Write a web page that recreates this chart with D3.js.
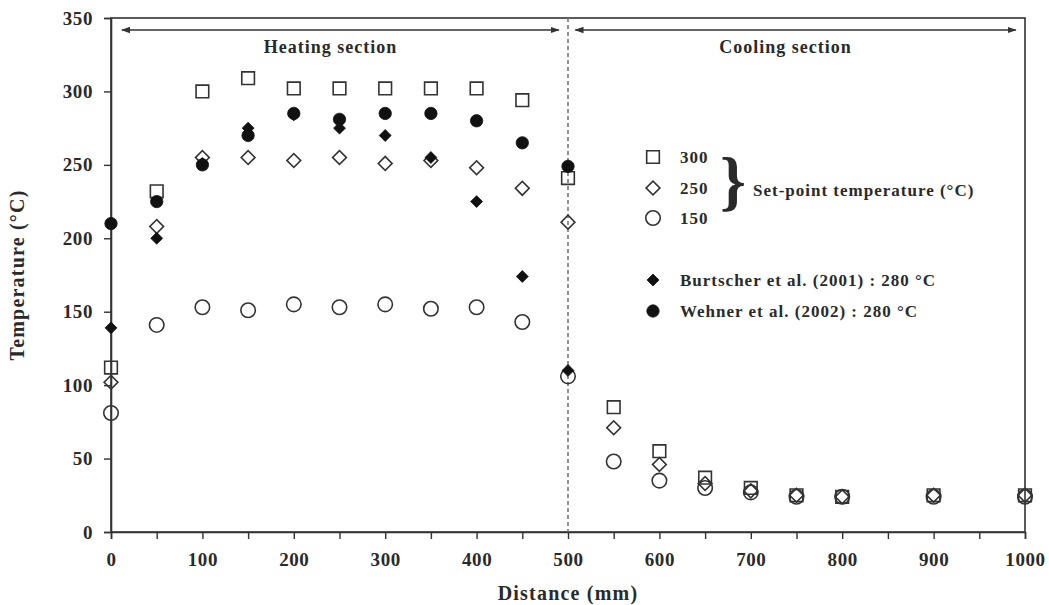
<!DOCTYPE html>
<html>
<head>
<meta charset="utf-8">
<script src="https://cdn.jsdelivr.net/npm/d3@7"></script>
<style>
  body { margin: 0; background: #fff; }
  svg text { font-family: "Liberation Serif", "DejaVu Serif", serif; font-weight: bold; fill: #2a2a2a; }
</style>
</head>
<body>
<div id="chart"></div>
<script>
// distances (mm) of the measurement points
var distances = [0, 50, 100, 150, 200, 250, 300, 350, 400, 450, 500, 550, 600, 650, 700, 750, 800, 900, 1000];
// set-point temperature series (°C)
var sp300 = [112, 232, 300, 309, 302, 302, 302, 302, 302, 294, 241, 85, 55, 37, 30, 25, 24, 25, 25];
var sp250 = [102, 208, 255, 255, 253, 255, 251, 253, 248, 234, 211, 71, 46, 33, 28, 25, 24, 25, 25];
var sp150 = [81, 141, 153, 151, 155, 153, 155, 152, 153, 143, 106, 48, 35, 30, 27, 24, 24, 24, 24];
// literature data, heating section only
var litDistances = [0, 50, 100, 150, 200, 250, 300, 350, 400, 450, 500];
var burtscher = [139, 200, 251, 275, 284, 275, 270, 255, 225, 174, 110];
var wehner = [210, 225, 250, 270, 285, 281, 285, 285, 280, 265, 249];

var xTicks = d3.range(0, 1001, 50);
var yTicks = d3.range(0, 351, 50);

var width = 1049, height = 605;
var margin = {top: 18, right: 24, bottom: 73, left: 111};

var svg = d3.select('#chart').append('svg')
    .attr('width', width)
    .attr('height', height);

var x = d3.scaleLinear().domain([0, 1000]).range([margin.left, width - margin.right]);
var y = d3.scaleLinear().domain([0, 350]).range([height - margin.bottom, margin.top]);

// frame
svg.append('rect')
    .attr('x', x(0)).attr('y', y(350))
    .attr('width', x(1000) - x(0)).attr('height', y(0) - y(350))
    .attr('fill', 'none').attr('stroke', '#333').attr('stroke-width', 1.6);

// axes
var xAxis = svg.append('g')
    .attr('transform', 'translate(0,' + y(0) + ')')
    .call(d3.axisBottom(x).tickValues(xTicks).tickSize(7).tickPadding(12)
        .tickFormat(function (d) { return d % 100 === 0 ? d : ''; }));
var yAxis = svg.append('g')
    .attr('transform', 'translate(' + x(0) + ',0)')
    .call(d3.axisLeft(y).tickValues(yTicks).tickSize(7).tickPadding(11));

[xAxis, yAxis].forEach(function (g) {
    g.select('.domain').attr('stroke', '#333').attr('stroke-width', 1.6);
    g.selectAll('.tick line').attr('stroke', '#333').attr('stroke-width', 1.4);
    g.selectAll('text').attr('font-size', 19).attr('letter-spacing', 0.6)
        .attr('font-family', null).attr('fill', null);
});
xAxis.selectAll('text').attr('dy', '0.8em');

// axis titles
svg.append('text')
    .attr('x', x(500)).attr('y', 600)
    .attr('text-anchor', 'middle').attr('font-size', 20).attr('letter-spacing', 1.2)
    .text('Distance (mm)');
svg.append('text')
    .attr('transform', 'translate(24,' + y(175) + ') rotate(-90)')
    .attr('text-anchor', 'middle').attr('font-size', 20).attr('letter-spacing', 1.2)
    .text('Temperature (°C)');

// section divider
svg.append('line')
    .attr('x1', x(500)).attr('x2', x(500))
    .attr('y1', y(350)).attr('y2', y(0))
    .attr('stroke', '#777').attr('stroke-width', 1.6)
    .attr('stroke-dasharray', '4,3');

// section arrows
var defs = svg.append('defs');
defs.append('marker')
    .attr('id', 'arrow')
    .attr('viewBox', '0 0 10 10')
    .attr('refX', 9).attr('refY', 5)
    .attr('markerWidth', 7).attr('markerHeight', 7)
    .attr('orient', 'auto-start-reverse')
    .append('path').attr('d', 'M0,1.5 L10,5 L0,8.5 Z').attr('fill', '#333');

var sections = [
    {name: 'Heating section', from: 12, to: 490},
    {name: 'Cooling section', from: 508, to: 990}
];
sections.forEach(function (s) {
    svg.append('line')
        .attr('x1', x(s.from)).attr('x2', x(s.to))
        .attr('y1', 30).attr('y2', 30)
        .attr('stroke', '#333').attr('stroke-width', 1.3)
        .attr('marker-start', 'url(#arrow)')
        .attr('marker-end', 'url(#arrow)');
    svg.append('text')
        .attr('x', x((s.from + s.to) / 2) - 10).attr('y', 53)
        .attr('text-anchor', 'middle').attr('font-size', 18).attr('letter-spacing', 1)
        .text(s.name);
});

// marker shapes
var squareSym = d3.symbol().type(d3.symbolSquare).size(160);
var diamondSym = d3.symbol().type(d3.symbolSquare).size(95);
var circleSym = d3.symbol().type(d3.symbolCircle).size(165);
var fDiamondSym = d3.symbol().type(d3.symbolSquare).size(70);
var fCircleSym = d3.symbol().type(d3.symbolCircle).size(120);

var series = [
    {name: '300', xs: distances, vals: sp300, sym: squareSym, rot: 0, filled: false},
    {name: '250', xs: distances, vals: sp250, sym: diamondSym, rot: 45, filled: false},
    {name: '150', xs: distances, vals: sp150, sym: circleSym, rot: 0, filled: false},
    {name: 'Burtscher et al. (2001) : 280 °C', xs: litDistances, vals: burtscher, sym: fDiamondSym, rot: 45, filled: true},
    {name: 'Wehner et al. (2002) : 280 °C', xs: litDistances, vals: wehner, sym: fCircleSym, rot: 0, filled: true}
];

function styleMark(sel, s) {
    sel.attr('d', s.sym())
        .attr('fill', s.filled ? '#111' : 'none')
        .attr('stroke', s.filled ? '#111' : '#333')
        .attr('stroke-width', s.filled ? 0.8 : 1.6);
}

series.forEach(function (s) {
    var pts = s.xs.map(function (d, i) { return [d, s.vals[i]]; });
    svg.append('g').selectAll('path')
        .data(pts)
        .join('path')
        .attr('transform', function (d) {
            return 'translate(' + x(d[0]) + ',' + y(d[1]) + ') rotate(' + s.rot + ')';
        })
        .call(styleMark, s);
});

// legend
var legX = 653, legText = 680;
var legY = [157, 188, 218, 280, 311];
var legend = svg.append('g');
series.forEach(function (s, i) {
    legend.append('path')
        .attr('transform', 'translate(' + legX + ',' + legY[i] + ') rotate(' + s.rot + ')')
        .call(styleMark, s);
    legend.append('text')
        .attr('x', legText).attr('y', legY[i]).attr('dy', '0.35em')
        .attr('font-size', 17).attr('letter-spacing', 1)
        .text(s.name);
});
// brace grouping the set-point entries
legend.append('text')
    .attr('x', 720).attr('y', 203)
    .attr('font-size', 66).attr('font-weight', 'normal')
    .text('}');
legend.append('text')
    .attr('x', 753).attr('y', 190).attr('dy', '0.35em')
    .attr('font-size', 17).attr('letter-spacing', 1)
    .text('Set-point temperature (°C)');
</script>
</body>
</html>
